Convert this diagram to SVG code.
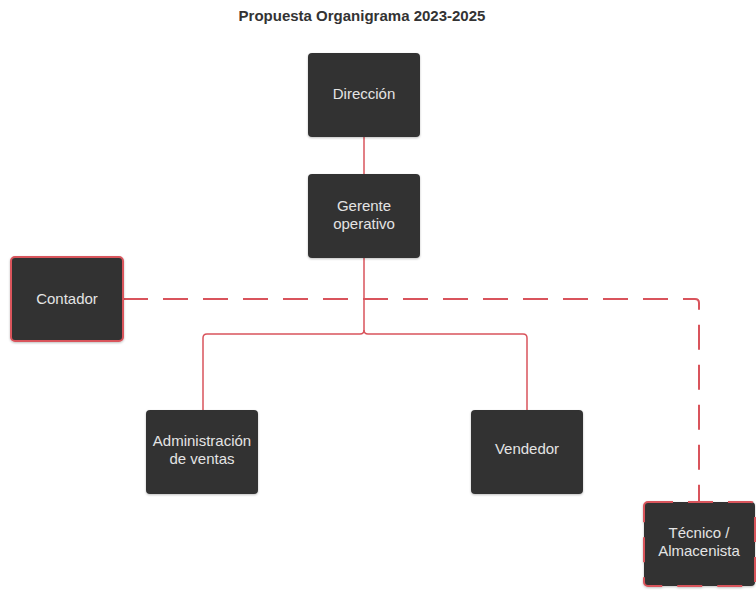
<svg xmlns="http://www.w3.org/2000/svg" width="756" height="601" viewBox="0 0 756 601">
<defs>
<filter id="sh" x="-10%" y="-10%" width="120%" height="130%">
<feDropShadow dx="0" dy="1" stdDeviation="1" flood-color="#000" flood-opacity="0.25"/>
</filter>
</defs>
<style>
.box{fill:#333333;filter:url(#sh)}
.t{font-family:"Liberation Sans",Arial,sans-serif;font-size:15px;fill:#e4e4e4;text-anchor:middle}
.ln{fill:none;stroke:#d9545c;stroke-width:1.5}
.dash{fill:none;stroke:#d9545c;stroke-width:2;stroke-dasharray:25 15}
</style>
<rect width="756" height="601" fill="#ffffff"/>
<text x="362" y="21" font-family="Liberation Sans,Arial,sans-serif" font-size="15" font-weight="bold" fill="#333333" text-anchor="middle">Propuesta Organigrama 2023-2025</text>
<g id="connectors">
<path class="ln" d="M364 137 V174"/>
<path class="ln" d="M364 258 V330 Q364 334 360 334 H207 Q203 334 203 338 V410"/>
<path class="ln" d="M364 330 Q364 334 368 334 H523 Q527 334 527 338 V410"/>
<path class="dash" d="M123 299 H695 Q699 299 699 303 V502"/>
</g>
<g id="direccion">
<rect class="box" x="308" y="53" width="112" height="84" rx="4"/>
<text class="t" x="364" y="99">Dirección</text>
</g>
<g id="gerente">
<rect class="box" x="308" y="174" width="112" height="84" rx="4"/>
<text class="t" x="364" y="211">Gerente</text>
<text class="t" x="364" y="229">operativo</text>
</g>
<g id="contador">
<rect class="box" x="11" y="257" width="112" height="84" rx="4" stroke="#d9545c" stroke-width="2"/>
<text class="t" x="67" y="304">Contador</text>
</g>
<g id="admin">
<rect class="box" x="146" y="410" width="112" height="84" rx="4"/>
<text class="t" x="202" y="446">Administración</text>
<text class="t" x="202" y="464">de ventas</text>
</g>
<g id="vendedor">
<rect class="box" x="471" y="410" width="112" height="84" rx="4"/>
<text class="t" x="527" y="454">Vendedor</text>
</g>
<g id="tecnico">
<rect class="box" x="644" y="502" width="111" height="84" rx="4" stroke="#d9545c" stroke-width="2" stroke-dasharray="25 15"/>
<text class="t" x="699" y="538">Técnico /</text>
<text class="t" x="699" y="556">Almacenista</text>
</g>
</svg>
